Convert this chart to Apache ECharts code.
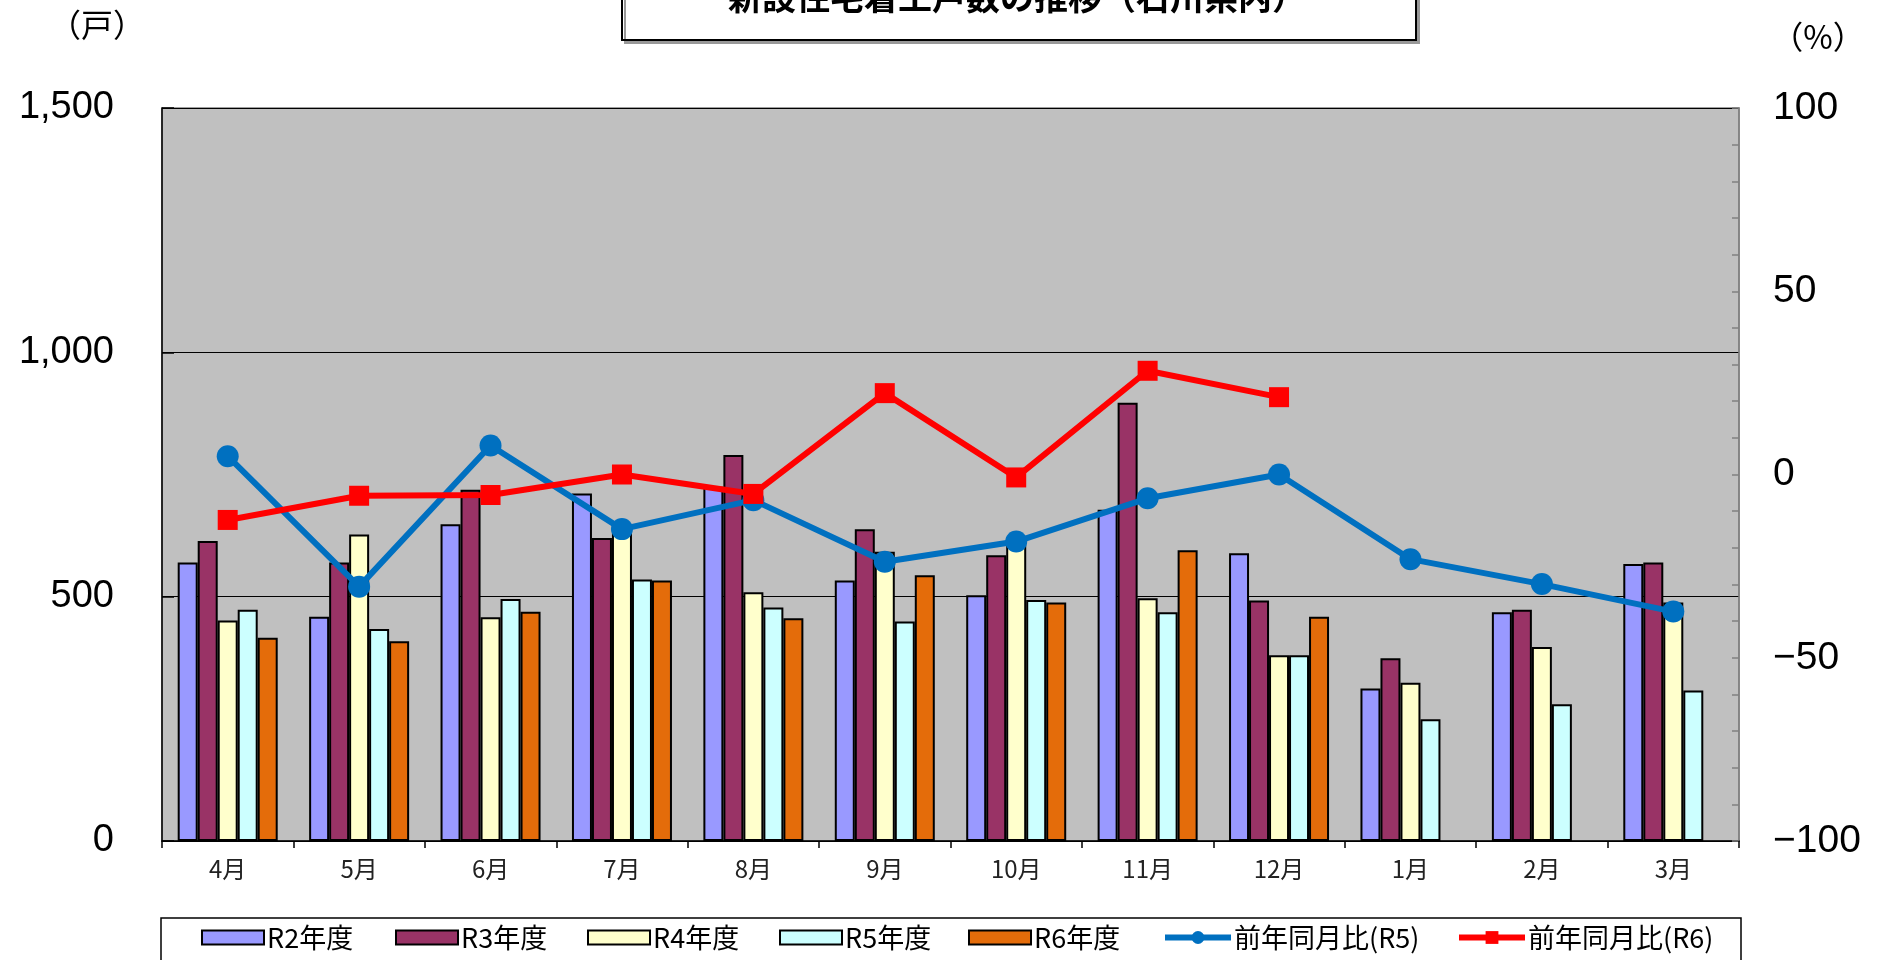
<!DOCTYPE html>
<html>
<head>
<meta charset="utf-8">
<script src="https://cdn.jsdelivr.net/npm/echarts@6/dist/echarts.min.js"></script>
<style>html,body{margin:0;padding:0;background:#fff;}#c{width:1879px;height:960px;}</style>
</head>
<body>
<div id="c"></div>
<script>
const months = ['4月','5月','6月','7月','8月','9月','10月','11月','12月','1月','2月','3月'];
const r2 = [570,459,648,711,725,533,503,678,589,312,468,567];
const r3 = [614,570,719,620,790,638,585,897,492,374,473,570];
const r4 = [451,627,458,635,509,592,605,497,380,324,397,488];
const r5 = [473,434,495,535,478,449,493,468,380,249,280,308];
const r6 = [416,409,469,533,456,544,488,595,459,null,null,null];
const ratioR5 = [5.0,-30.6,7.9,-14.9,-7.0,-23.8,-18.3,-6.5,0,-23.1,-29.9,-37.4];
const ratioR6 = [-12.4,-5.8,-5.6,0,-5.3,22.2,-0.8,28.3,21.1,null,null,null];
const leftTicks = [0,500,1000,1500];
const rightTicks = [-100,-50,0,50,100];

const barNames = ['R2年度','R3年度','R4年度','R5年度','R6年度'];
const barData = [r2,r3,r4,r5,r6];
const barColors = ['#9999FF','#993366','#FFFFCC','#CCFFFF','#E46C0A'];
const lineNames = ['前年同月比(R5)','前年同月比(R6)'];
const lineColors = ['#0070C0','#FF0000'];

const cjk = '"Noto Sans CJK JP", sans-serif';
const num = '"Liberation Sans", Arial, sans-serif';

const series = barNames.map((n,i)=>({
  name:n, type:'bar', data:barData[i], barWidth:20, barGap:'0%',
  itemStyle:{color:barColors[i], borderColor:'#000', borderWidth:2},
  emphasis:{disabled:true}
}));
series.push({
  name:lineNames[0], type:'line', yAxisIndex:1, data:ratioR5,
  symbol:'circle', symbolSize:22, lineStyle:{color:lineColors[0], width:6},
  itemStyle:{color:lineColors[0]}, z:5
});
series.push({
  name:lineNames[1], type:'line', yAxisIndex:1, data:ratioR6,
  symbol:'rect', symbolSize:20, lineStyle:{color:lineColors[1], width:6},
  itemStyle:{color:lineColors[1]}, z:6
});

const legendLefts = [201,395,587,779,968,1162,1456];
const allNames = barNames.concat(lineNames);
const legends = allNames.map((n,i)=>{
  const lg = {
    data:[n], left:legendLefts[i], top:924, padding:0, z:10,
    itemWidth: i<5 ? 62 : 66, itemHeight: i<5 ? 14 : 16, itemGap:0,
    selectedMode:false,
    textStyle:{fontSize:27, fontFamily:cjk, color:'#000', padding:[0,0,0,-2]}
  };
  if (i<5) { lg.icon = 'rect'; }
  else { lg.lineStyle = {width:6, color:lineColors[i-5]}; }
  return lg;
});

const chart = echarts.init(document.getElementById('c'));
chart.setOption({
  animation:false,
  backgroundColor:'#fff',
  grid:{left:162, right:140, top:108, bottom:119, show:true, backgroundColor:'#C0C0C0', borderColor:'#808080', borderWidth:1.5},
  legend: legends,
  xAxis:{
    type:'category', data:months,
    axisLine:{lineStyle:{color:'#000', width:1.5}},
    axisTick:{show:true, length:7, lineStyle:{color:'#000', width:1.5}},
    axisLabel:{fontSize:24, fontFamily:cjk, color:'#222', margin:16}
  },
  yAxis:[{
    type:'value', min:leftTicks[0], max:leftTicks[leftTicks.length-1], interval:500,
    axisLine:{show:true, lineStyle:{color:'#000', width:1.5}},
    axisTick:{show:true, inside:true, length:12, lineStyle:{color:'#000', width:1.5}},
    splitLine:{show:true, lineStyle:{color:'#000', width:1.2}},
    axisLabel:{fontSize:38, fontFamily:num, color:'#000', margin:48,
      formatter:v=>v.toLocaleString('en-US')}
  },{
    type:'value', min:rightTicks[0], max:rightTicks[rightTicks.length-1], interval:10,
    position:'right',
    axisLine:{show:true, lineStyle:{color:'#808080', width:1.5}},
    axisTick:{show:true, inside:true, length:7, lineStyle:{color:'#808080', width:1.5}},
    splitLine:{show:false},
    axisLabel:{fontSize:39, fontFamily:num, color:'#000', margin:34, align:'left',
      formatter:v=> rightTicks.indexOf(v) >= 0 ? String(v).replace('-','\u2212') : ''}
  }],
  series: series,
  graphic:[
    {type:'rect', z:0, shape:{x:622, y:-20, width:794, height:60},
     style:{fill:'#fff', stroke:'#000', lineWidth:2, shadowColor:'#999', shadowOffsetX:3, shadowOffsetY:3, shadowBlur:0}},
    {type:'text', z:1, x:1017, y:-3,
     style:{text:'新設住宅着工戸数の推移（石川県内）', fontSize:34, fontWeight:'bold', fontFamily:cjk, fill:'#000', align:'center', verticalAlign:'middle'}},
    {type:'rect', z:0, shape:{x:161, y:918, width:1580, height:80},
     style:{fill:'#fff', stroke:'#000', lineWidth:1.5}},
    {type:'text', z:1, x:97, y:25,
     style:{text:'（戸）', fontSize:32, fontFamily:cjk, fill:'#000', align:'center', verticalAlign:'middle'}},
    {type:'text', z:1, x:1818, y:37,
     style:{text:'（%）', fontSize:32, fontFamily:cjk, fill:'#000', align:'center', verticalAlign:'middle'}}
  ]
});
</script>
</body>
</html>
